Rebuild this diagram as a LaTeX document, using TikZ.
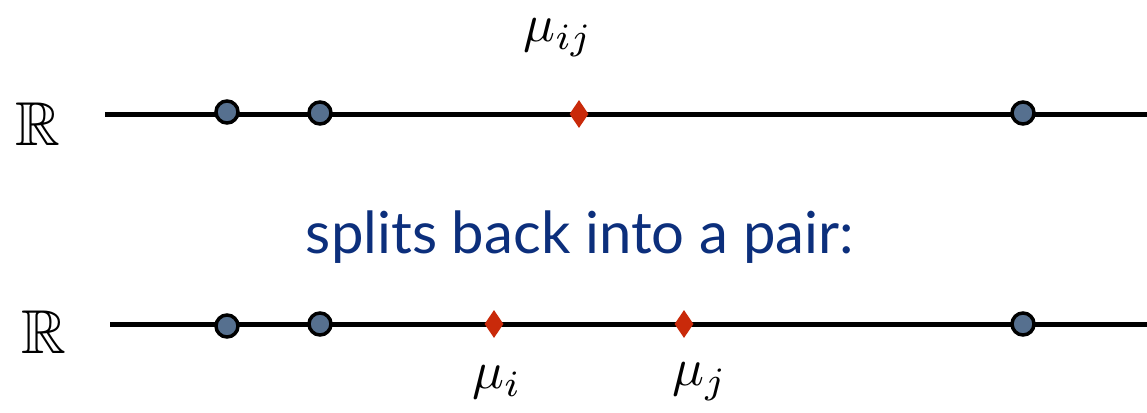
\documentclass[tikz,border=0pt]{standalone}
\usepackage{amssymb}
\usepackage{fontspec}
\newfontfamily\labelfont{Lato}
\usetikzlibrary{shapes.geometric}
\definecolor{dotfill}{HTML}{56708F}
\definecolor{diamred}{HTML}{C92A0A}
\definecolor{textblue}{HTML}{0C2F7C}
\tikzset{
  axisline/.style={line width=5pt, black},
  pt/.style={circle, draw=black, line width=3.5pt, fill=dotfill, minimum size=22pt, inner sep=0pt},
  mean/.style={diamond, fill=diamred, draw=none, minimum width=19pt, minimum height=28pt, inner sep=0pt, aspect=0.65},
  lbl/.style={inner sep=0pt},
  reals/.style={inner sep=0pt}
}
\begin{document}
\begin{tikzpicture}[x=1pt,y=-1pt]
\useasboundingbox (0,0) rectangle (1147,412);
% top line
\coordinate (t0) at (105,114);
\coordinate (t1) at (1147,114);
\draw[axisline] (t0) -- (t1);
\node[reals] (R1) at (38,124) {\scalebox{6.2}{$\mathbb{R}$}};
\node[pt] (a1) at (227,112) {};
\node[pt] (b1) at (320,113) {};
\node[pt] (c1) at (1023,113) {};
\node[mean] (m1) at (579,114) {};
\node[lbl] (l1) at (558,38) {\scalebox{5.3}{$\mu_{ij}$}};
% text
\node[inner sep=0pt, text=textblue, font=\labelfont\fontsize{58}{64}\selectfont] (txt) at (580,237) {splits back into a pair:};
% bottom line
\coordinate (u0) at (110,324);
\coordinate (u1) at (1147,324);
\draw[axisline] (u0) -- (u1);
\node[reals] (R2) at (44,332) {\scalebox{6.2}{$\mathbb{R}$}};
\node[pt] (a2) at (227,326) {};
\node[pt] (b2) at (320,324) {};
\node[pt] (c2) at (1023,324) {};
\node[mean] (m2) at (494,324) {};
\node[mean] (m3) at (684,324) {};
\node[lbl] (l2) at (497,382) {\scalebox{5.3}{$\mu_i$}};
\node[lbl] (l3) at (700,382) {\scalebox{5.3}{$\mu_j$}};
\end{tikzpicture}
\end{document}
